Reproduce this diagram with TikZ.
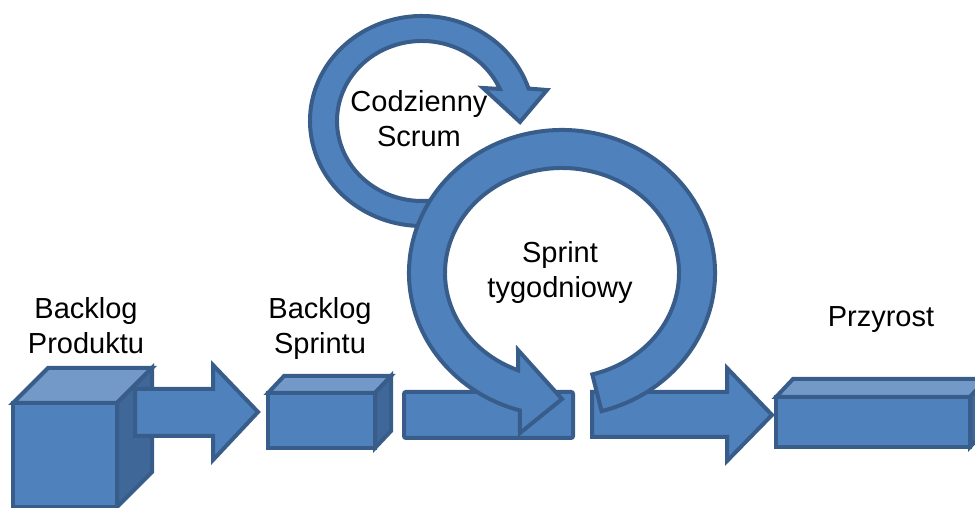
\documentclass[tikz,border=0pt]{standalone}
\usepackage{fontspec}
\setmainfont{Liberation Sans}
\usepackage{tikz}
\definecolor{boxblue}{HTML}{4F81BD}
\definecolor{boxtop}{HTML}{7399C9}
\definecolor{boxside}{HTML}{3F6797}
\definecolor{boxline}{HTML}{385D8A}
\tikzset{
  blueshape/.style={fill=boxblue, draw=boxline, line width=4pt},
  labeltext/.style={align=center, font=\fontsize{29}{35}\selectfont, inner sep=0pt, anchor=base}
}

\begin{document}
\begin{tikzpicture}[x=1pt, y=1pt]
\useasboundingbox (0,0) rectangle (975,508);
% product backlog cube
\draw[blueshape] (13,1) rectangle (117,105);
\draw[blueshape, fill=boxtop] (13,105)--(48,140)--(152,140)--(117,105)--cycle;
\draw[blueshape, fill=boxside] (117,1)--(152,36)--(152,140)--(117,105)--cycle;
\draw[blueshape] (135,72)--(213,72)--(213,48)--(258,96)--(213,143)--(213,119)--(135,119)--cycle;
% sprint backlog box
\draw[blueshape] (268,60) rectangle (375,115);
\draw[blueshape, fill=boxtop] (268,115)--(284,132)--(391,132)--(375,115)--cycle;
\draw[blueshape, fill=boxside] (375,60)--(391,77)--(391,132)--(375,115)--cycle;
\draw[blueshape, rounded corners=2pt] (404,70) rectangle (573,116);
\draw[blueshape] (592,71)--(727,71)--(727,47)--(772,93)--(727,140)--(727,116)--(592,116)--cycle;
% increment
\draw[blueshape] (776,61) rectangle (970,111);
\draw[blueshape, fill=boxtop] (776,111)--(793,129)--(987,129)--(970,111)--cycle;
\draw[blueshape, fill=boxside] (970,61)--(987,79)--(987,129)--(970,111)--cycle;
% daily loop, then the sprint loop on top
\coordinate (daily) at (422,387);
\draw[blueshape] ([shift={(-75:112 and 105)}]daily)
  arc[start angle=-75, end angle=-342, x radius=112, y radius=105]
  -- (547,418) -- (520,386) -- (483,420) -- ([shift={(-336.4:85 and 80)}]daily)
  arc[start angle=-336.4, end angle=-75, x radius=85, y radius=80] -- cycle;
\coordinate (sprint) at (562,235);
\draw[blueshape] ([shift={(-75:153 and 143)}]sprint)
  arc[start angle=-75, end angle=254, x radius=153, y radius=143]
  -- (520,75) -- (562,109) -- (518,158) -- ([shift={(248:117 and 105)}]sprint)
  arc[start angle=248, end angle=-75, x radius=117, y radius=105] -- cycle;
% labels (base = last line)
\node[labeltext] (prodlog) at (86,154) {Backlog\\Produktu};
\node[labeltext] (sprlog) at (320,154) {Backlog\\Sprintu};
\node[labeltext] (dailyscrum) at (419,361) {Codzienny\\Scrum};
\node[labeltext] (sprintweek) at (560,210) {Sprint\\tygodniowy};
\node[labeltext] (incr) at (881,181) {Przyrost};
\end{tikzpicture}
\end{document}
